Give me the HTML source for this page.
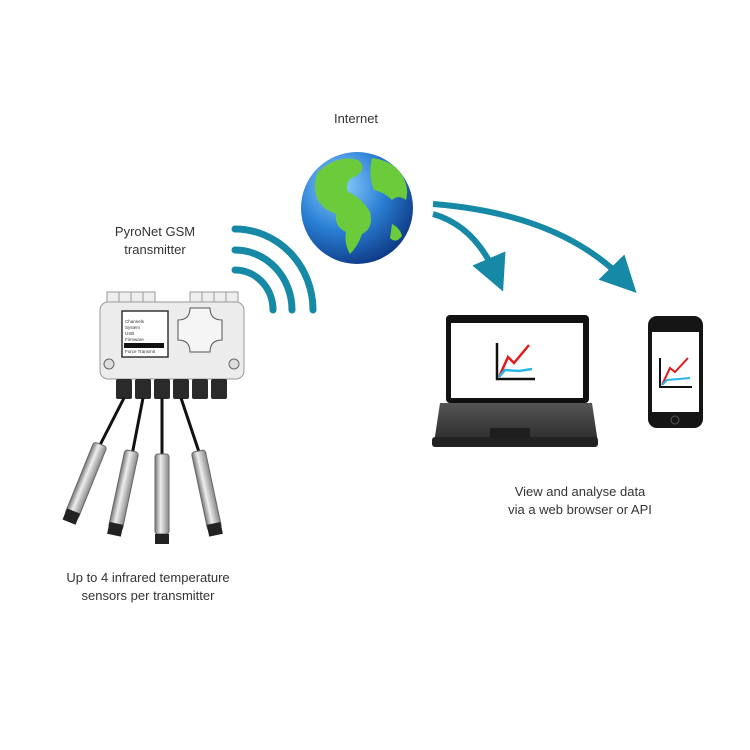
<!DOCTYPE html>
<html><head><meta charset="utf-8"><style>
html,body{margin:0;padding:0;background:#fff;width:750px;height:750px;overflow:hidden}
text{font-family:"Liberation Sans",sans-serif;font-size:13px;fill:#333}
</style></head><body>
<svg width="750" height="750" viewBox="0 0 750 750" xmlns="http://www.w3.org/2000/svg">
<defs>
<radialGradient id="ocean" cx="0.35" cy="0.3" r="0.8">
<stop offset="0" stop-color="#8fd0ff"/><stop offset="0.5" stop-color="#2a7fd4"/><stop offset="1" stop-color="#0a2f7a"/></radialGradient>
<linearGradient id="probe" x1="0" x2="1"><stop offset="0" stop-color="#777"/><stop offset="0.4" stop-color="#eee"/><stop offset="1" stop-color="#888"/></linearGradient>
<linearGradient id="kb" x1="0" y1="0" x2="0" y2="1"><stop offset="0" stop-color="#555"/><stop offset="1" stop-color="#2a2a2a"/></linearGradient>
<marker id="ah" markerWidth="6" markerHeight="6" refX="3" refY="3" orient="auto" markerUnits="strokeWidth"><path d="M0,0 L6,3 L0,6 z" fill="#1589a6"/></marker>
</defs>
<text x="356" y="123" text-anchor="middle">Internet</text>
<text x="155" y="236" text-anchor="middle">PyroNet GSM</text>
<text x="155" y="254" text-anchor="middle">transmitter</text>
<text x="580" y="496" text-anchor="middle">View and analyse data</text>
<text x="580" y="514" text-anchor="middle">via a web browser or API</text>
<text x="148" y="582" text-anchor="middle">Up to 4 infrared temperature</text>
<text x="148" y="600" text-anchor="middle">sensors per transmitter</text>

<!-- globe -->
<circle cx="357" cy="208" r="56" fill="url(#ocean)"/>
<path d="M318,172 q20,-18 40,-12 q10,8 -2,16 q-12,4 -8,16 q14,6 22,20 q4,16 -8,22 q-4,12 -12,20 q-6,-10 -4,-22 q-12,-6 -10,-18 q-12,-4 -18,-14 q-6,-14 0,-28z" fill="#6ccb3a"/>
<path d="M372,158 q18,2 28,14 q10,14 6,28 q-8,-6 -14,0 q-8,-8 -18,-10 q-6,-14 -2,-32z" fill="#6ccb3a"/>
<path d="M392,224 q8,4 10,12 q-6,8 -12,2z" fill="#6ccb3a"/>

<!-- waves -->
<g fill="none" stroke="#1589a6" stroke-width="7" stroke-linecap="round">
<path d="M235,270 A38,40 0 0 1 273,310"/>
<path d="M235,250 A57,60 0 0 1 292,310"/>
<path d="M235,229 A78,81 0 0 1 313,310"/>
</g>
<!-- arrows -->
<g fill="none" stroke="#1589a6" stroke-width="6">
<path d="M433,214 Q475,226 496,275" marker-end="url(#ah)"/>
<path d="M433,204 Q560,214 624,280" marker-end="url(#ah)"/>
</g>

<!-- transmitter -->
<g>
<rect x="107" y="292" width="48" height="12" fill="#eee" stroke="#999"/>
<rect x="190" y="292" width="48" height="12" fill="#eee" stroke="#999"/>
<path d="M119,292v12M131,292v12M143,292v12M202,292v12M214,292v12M226,292v12" stroke="#999"/>
<rect x="100" y="302" width="144" height="77" rx="8" fill="#ececec" stroke="#999"/>
<rect x="122" y="311" width="46" height="46" fill="#fff" stroke="#333" stroke-width="1.5"/>
<g>
<text x="125" y="323" style="font-size:4.5px">Channels</text>
<text x="125" y="329" style="font-size:4.5px">System</text>
<text x="125" y="335" style="font-size:4.5px">USB</text>
<text x="125" y="341" style="font-size:4.5px">Firmware</text>
<rect x="124" y="343" width="40" height="5" fill="#111"/>
<text x="125" y="353" style="font-size:4.5px">Force Transmit</text>
</g>
<path d="M190,308 h20 q0,12 12,12 v20 q-12,0 -12,12 h-20 q0,-12 -12,-12 v-20 q12,0 12,-12z" fill="#f5f5f5" stroke="#555"/>
<circle cx="109" cy="364" r="5" fill="#ddd" stroke="#666"/>
<circle cx="234" cy="364" r="5" fill="#ddd" stroke="#666"/>
<g fill="#2a2a2a">
<rect x="116" y="379" width="16" height="20" rx="2"/><rect x="135" y="379" width="16" height="20" rx="2"/>
<rect x="154" y="379" width="16" height="20" rx="2"/><rect x="173" y="379" width="16" height="20" rx="2"/>
<rect x="192" y="379" width="16" height="20" rx="2"/><rect x="211" y="379" width="16" height="20" rx="2"/>
</g>
</g>
<!-- cables -->
<g stroke="#111" stroke-width="3" fill="none">
<path d="M124,398 L100,445"/><path d="M143,398 L132,455"/><path d="M162,398 L162,458"/><path d="M181,398 L200,455"/>
</g>
<!-- probes -->
<g transform="translate(99,448) rotate(22)"><rect x="-7" y="-4" width="14" height="78" rx="3" fill="url(#probe)" stroke="#666"/><rect x="-7" y="68" width="14" height="12" fill="#222"/></g>
<g transform="translate(131,455) rotate(12)"><rect x="-7" y="-4" width="14" height="80" rx="3" fill="url(#probe)" stroke="#666"/><rect x="-7" y="70" width="14" height="12" fill="#222"/></g>
<g transform="translate(162,458)"><rect x="-7" y="-4" width="14" height="80" rx="3" fill="url(#probe)" stroke="#666"/><rect x="-7" y="76" width="14" height="10" fill="#222"/></g>
<g transform="translate(199,455) rotate(-12)"><rect x="-7" y="-4" width="14" height="80" rx="3" fill="url(#probe)" stroke="#666"/><rect x="-7" y="70" width="14" height="12" fill="#222"/></g>

<!-- laptop -->
<rect x="446" y="315" width="143" height="88" rx="4" fill="#111"/>
<rect x="451" y="323" width="132" height="75" fill="#fff"/>
<path d="M440,403 h152 l6,40 h-164z" fill="url(#kb)"/>
<rect x="432" y="437" width="166" height="10" rx="3" fill="#222"/>
<rect x="490" y="428" width="40" height="10" fill="#1e1e1e"/>
<g stroke-width="2.5" fill="none">
<path d="M497,343 V379 H535" stroke="#111"/>
<path d="M499,377 L508,357 L514,363 L529,345" stroke="#e01b1b"/>
<path d="M499,377 L505,370 L519,371 L532,369" stroke="#2ab7e8"/>
</g>
<!-- phone -->
<rect x="648" y="316" width="55" height="112" rx="9" fill="#151515"/>
<rect x="652" y="332" width="47" height="80" fill="#fff"/>
<circle cx="675" cy="420" r="4" fill="none" stroke="#555"/>
<g stroke-width="2" fill="none">
<path d="M660,358 V387 H692" stroke="#111"/>
<path d="M662,385 L670,368 L675,372 L688,358" stroke="#e01b1b"/>
<path d="M662,385 L667,380 L679,379 L690,378" stroke="#2ab7e8"/>
</g>
</svg>
</body></html>
